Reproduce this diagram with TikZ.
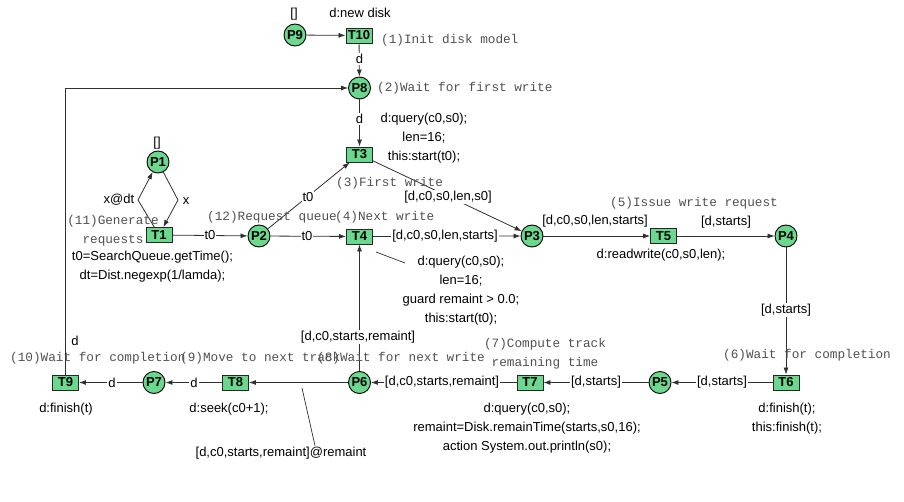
\documentclass[tikz,border=0pt]{standalone}
\usepackage{fontspec}
\setmainfont{Liberation Sans}
\setmonofont{Liberation Mono}
\usetikzlibrary{arrows.meta}
\definecolor{token}{HTML}{6BD88E}
\definecolor{edge}{HTML}{303030}
\definecolor{note}{HTML}{505050}

\begin{document}
\begin{tikzpicture}[
  x=1pt,y=-1pt,
  pl/.style={circle,draw=black,fill=token,line width=0.9pt,minimum size=22pt,inner sep=0pt,
             font=\fontsize{13}{15}\selectfont\bfseries},
  tr/.style={rectangle,draw=black!85,fill=token,line width=0.9pt,minimum width=26pt,
             minimum height=15pt,inner sep=0pt,font=\fontsize{13}{15}\selectfont\bfseries},
  a/.style={-{Latex[length=7pt,width=5pt]},draw=edge,line width=0.8pt},
  ln/.style={draw=edge,line width=0.7pt},
  ins/.style={font=\fontsize{13}{19}\selectfont,inner sep=1pt,align=center},
  insw/.style={ins,fill=white},
  cmt/.style={font=\ttfamily\fontsize{12.7}{19}\selectfont,text=note,inner sep=0pt,align=center}]
\useasboundingbox (0,0) rectangle (904,502);

% places and transitions
\node[pl] (p9) at (295,35)      {P9};
\node[tr] (t10) at (359,35.5)   {T10};
\node[pl] (p8) at (359.5,88)    {P8};
\node[tr] (t3) at (359.5,154.5) {T3};
\node[pl] (p1) at (158,162)     {P1};
\node[tr] (t1) at (159,235)     {T1};
\node[pl] (p2) at (259,236)     {P2};
\node[tr] (t4) at (359.5,236.5) {T4};
\node[pl] (p3) at (532,236)     {P3};
\node[tr] (t5) at (663.5,236)   {T5};
\node[pl] (p4) at (786,236)     {P4};
\node[tr] (t6) at (786,382.5)   {T6};
\node[pl] (p5) at (660,382.5)   {P5};
\node[tr] (t7) at (530,382.5)   {T7};
\node[pl] (p6) at (359.5,382.5) {P6};
\node[tr] (t8) at (235.5,382.5) {T8};
\node[pl] (p7) at (154,382.5)   {P7};
\node[tr] (t9) at (65.5,382.5)  {T9};
\coordinate (xr) at (178,200);
\coordinate (xl) at (138,200);

% arcs
\draw[a] (p9)--(t10);
\draw[a] (t10)--(p8);
\draw[a] (p8)--(t3);
\draw[a] (t9.north)|-(p8.west);
\draw[a] (p1)--(xr)--(t1);
\draw[a] (t1)--(xl)--(p1);
\draw[a] (t1)--(p2);
\draw[a] (p2)--(t3);
\draw[a] (p2)--(t4);
\draw[a] (t3)--(p3);
\draw[a] (t4)--(p3);
\draw[a] (p3)--(t5);
\draw[a] (t5)--(p4);
\draw[a] (p4)--(t6);
\draw[a] (t6)--(p5);
\draw[a] (p5)--(t7);
\draw[a] (t7)--(p6);
\draw[a] (p6)--(t4);
\draw[a] (p6)--(t8);
\draw[a] (t8)--(p7);
\draw[a] (p7)--(t9);

% arc inscriptions
\node[insw] (i1) at (359.5,59)  {d};
\node[insw] (i2) at (359.5,119) {d};
\node[ins]  (i3) at (75,341)    {d};
\node[ins]  (i4) at (186,201)   {x};
\node[ins]  (i5) at (119,200)   {x@dt};
\node[insw] (i6) at (210,235)   {t0};
\node[insw] (i7) at (308,197)   {t0};
\node[insw] (i8) at (307,236)   {t0};
\node[insw] (i9) at (448,197)   {[d,c0,s0,len,s0]};
\node[insw] (i10) at (445,236)  {[d,c0,s0,len,starts]};
\node[ins]  (i11) at (595,221)  {[d,c0,s0,len,starts]};
\node[ins]  (i12) at (726,222)  {[d,starts]};
\node[insw] (i13) at (786,310)  {[d,starts]};
\node[insw] (i14) at (722,382.5) {[d,starts]};
\node[insw] (i15) at (596,382.5) {[d,starts]};
\node[insw] (i16) at (442,382.5) {[d,c0,starts,remaint]};
\node[insw] (i17) at (358,337)  {[d,c0,starts,remaint]};
\node[insw] (i18) at (194,382.5) {d};
\node[insw] (i19) at (112,382.5) {d};
\node[ins]  (i20) at (281,453)  {[d,c0,starts,remaint]@remaint};
\draw[ln] (302,388)--(i20.north -| 315,0);

% initial markings and transition inscriptions
\node[ins] (m9) at (294,14)  {[]};
\node[ins] (m1) at (157,143) {[]};
\node[ins] (d10) at (360,13) {d:new disk};
\node[ins] (d1) at (152.5,266.5) {t0=SearchQueue.getTime();\\dt=Dist.negexp(1/lamda);};
\node[ins] (d3) at (424,138.5) {d:query(c0,s0);\\len=16;\\this:start(t0);};
\node[ins] (d4) at (461,290.5) {d:query(c0,s0);\\len=16;\\guard remaint > 0.0;\\this:start(t0);};
\draw[ln] (376,252)--(405,263);
\node[ins] (d5) at (661,255) {d:readwrite(c0,s0,len);};
\node[ins] (d6) at (787,418.5) {d:finish(t);\\this:finish(t);};
\node[ins] (d7) at (527,428) {d:query(c0,s0);\\remaint=Disk.remainTime(starts,s0,16);\\action System.out.println(s0);};
\node[ins] (d8) at (229,409) {d:seek(c0+1);};
\node[ins] (d9) at (66,409)  {d:finish(t)};

% step comments
\node[cmt,anchor=west] (c1) at (381,40)  {(1)Init disk model};
\node[cmt,anchor=west] (c2) at (377,88)  {(2)Wait for first write};
\node[cmt,anchor=west] (c3) at (336,183) {(3)First write};
\node[cmt,anchor=west] (c4) at (335,217) {(4)Next write};
\node[cmt,anchor=west] (c5) at (610,203) {(5)Issue write request};
\node[cmt,anchor=west] (c6) at (723,355) {(6)Wait for completion};
\node[cmt] (c7) at (545,353.5) {(7)Compute track\\remaining time};
\node[cmt,anchor=west] (c8) at (317,358) {(8)Wait for next write};
\node[cmt,anchor=west] (c9) at (180,358) {(9)Move to next track};
\node[cmt,anchor=west] (c10) at (10,358) {(10)Wait for completion};
\node[cmt] (c11) at (113,230.5) {(11)Generate\\requests};
\node[cmt,anchor=west] (c12) at (207,217) {(12)Request queue};
\end{tikzpicture}
\end{document}
